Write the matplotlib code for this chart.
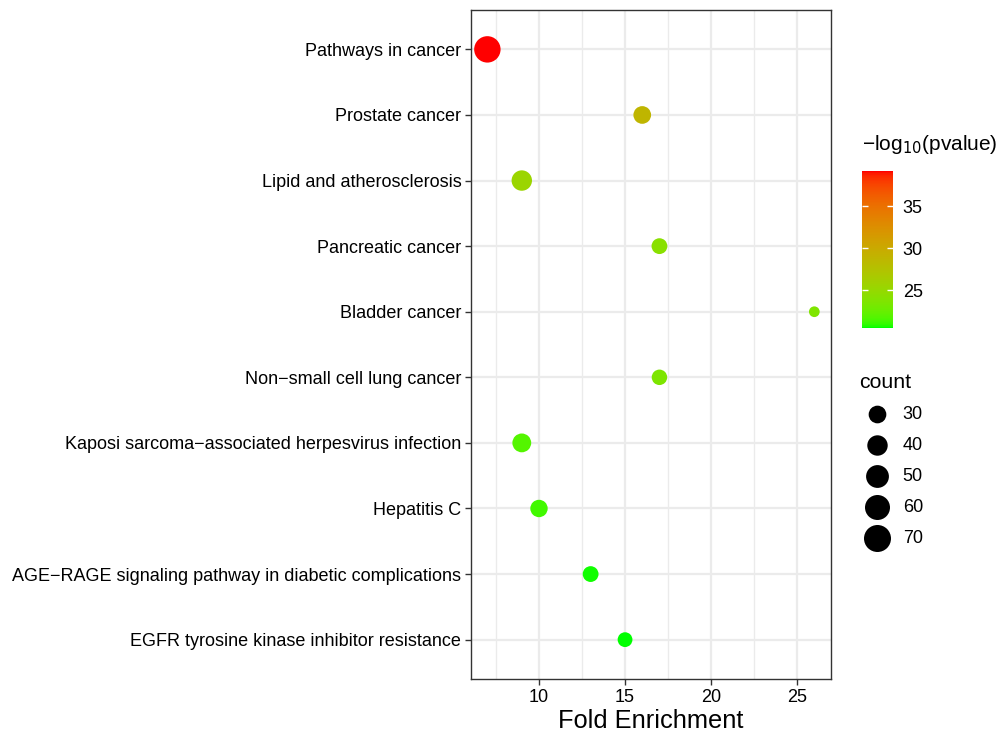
import numpy as np
import matplotlib
matplotlib.use('Agg')
import matplotlib.pyplot as plt
from matplotlib.colors import ListedColormap, Normalize
from matplotlib.cm import ScalarMappable
from matplotlib.ticker import MultipleLocator

plt.rcParams['font.family'] = ['Liberation Sans', 'DejaVu Sans']

pathways = ['Pathways in cancer',
            'Prostate cancer',
            'Lipid and atherosclerosis',
            'Pancreatic cancer',
            'Bladder cancer',
            'Non\u2212small cell lung cancer',
            'Kaposi sarcoma\u2212associated herpesvirus infection',
            'Hepatitis C',
            'AGE\u2212RAGE signaling pathway in diabetic complications',
            'EGFR tyrosine kinase inhibitor resistance']
fold_enrichment = [7, 16, 9, 17, 26, 17, 9, 10, 13, 15]
counts = [67, 30, 40, 24, 11, 23, 34, 29, 24, 21]
neg_log_p = [39.2, 28.8, 25.4, 24.2, 23.6, 23.5, 21.8, 21.3, 20.6, 20.5]
count_breaks = [30, 40, 50, 60, 70]
color_breaks = [25, 30, 35]


def srgb_to_lab(rgb):
    rgb = np.asarray(rgb, dtype=float)
    c = np.where(rgb <= 0.04045, rgb / 12.92, ((rgb + 0.055) / 1.055) ** 2.4)
    m = np.array([[0.4124, 0.3576, 0.1805],
                  [0.2126, 0.7152, 0.0722],
                  [0.0193, 0.1192, 0.9505]])
    xyz = m @ c / np.array([0.95047, 1.0, 1.08883])
    d = 6 / 29
    f = np.where(xyz > d ** 3, np.cbrt(xyz), xyz / (3 * d * d) + 4 / 29)
    return np.array([116 * f[1] - 16, 500 * (f[0] - f[1]), 200 * (f[1] - f[2])])


def lab_to_srgb(lab):
    L, a, b = lab
    fy = (L + 16) / 116
    fx = fy + a / 500
    fz = fy - b / 200
    d = 6 / 29
    f = np.array([fx, fy, fz])
    xyz = np.where(f > d, f ** 3, 3 * d * d * (f - 4 / 29))
    xyz = xyz * np.array([0.95047, 1.0, 1.08883])
    minv = np.array([[3.2406, -1.5372, -0.4986],
                     [-0.9689, 1.8758, 0.0415],
                     [0.0557, -0.2040, 1.0570]])
    c = np.clip(minv @ xyz, 0, 1)
    rgb = np.where(c <= 0.0031308, 12.92 * c, 1.055 * c ** (1 / 2.4) - 0.055)
    return np.clip(rgb, 0, 1)


# green -> red gradient interpolated in Lab, like ggplot
lo = srgb_to_lab([0, 1, 0])
hi = srgb_to_lab([1, 0, 0])
cols = [lab_to_srgb(lo + t * (hi - lo)) for t in np.linspace(0, 1, 256)]
cmap = ListedColormap(cols)
norm = Normalize(vmin=min(neg_log_p), vmax=max(neg_log_p))

SIZE_K = 5.4  # marker area (pt^2) per count

fig = plt.figure(figsize=(9.99, 7.32), dpi=100)
ax = fig.add_axes([0.4715, 0.0724, 0.36, 0.9139])

y = np.arange(len(pathways))[::-1]
ax.scatter(fold_enrichment, y, s=np.array(counts) * SIZE_K,
           c=neg_log_p, cmap=cmap, norm=norm, linewidths=0, zorder=3)

ax.set_yticks(y)
ax.set_yticklabels(pathways)
ax.set_ylim(-0.6, len(pathways) - 0.4)
xr = max(fold_enrichment) - min(fold_enrichment)
ax.set_xlim(min(fold_enrichment) - 0.05 * xr, max(fold_enrichment) + 0.05 * xr)
ax.xaxis.set_major_locator(MultipleLocator(5))
ax.xaxis.set_minor_locator(MultipleLocator(2.5))

ax.grid(which='major', color='#EBEBEB', linewidth=1.6, zorder=0)
ax.grid(which='minor', axis='x', color='#EBEBEB', linewidth=1.0, zorder=0)
ax.set_axisbelow(True)
ax.tick_params(which='minor', length=0)
ax.tick_params(which='major', length=4, width=1.0, color='#333333',
               labelsize=13, labelcolor='black', pad=3)
for sp in ax.spines.values():
    sp.set_color('#333333')
    sp.set_linewidth(1.0)
ax.set_xlabel('Fold Enrichment', fontsize=18.3, labelpad=2)

# colour bar
cax = fig.add_axes([0.863, 0.552, 0.031, 0.2145])
cb = fig.colorbar(ScalarMappable(norm=norm, cmap=cmap), cax=cax, ticks=color_breaks)
cb.outline.set_visible(False)
cax.tick_params(axis='y', which='both', direction='in', length=4, width=1,
                color='white', left=True, right=True, labelsize=13, pad=7)
cax.yaxis.set_tick_params(which='minor', length=0)
fig.text(0.863, 0.787, '\u2212log$_{10}$(pvalue)', fontsize=15,
         ha='left', va='bottom')

# size legend
handles = [ax.scatter([], [], s=b * SIZE_K, color='black', linewidths=0)
           for b in count_breaks]
leg = fig.legend(handles, [str(b) for b in count_breaks], title='count',
                 loc='upper left', bbox_to_anchor=(0.853, 0.5), frameon=False,
                 fontsize=13, title_fontsize=15.3, labelspacing=0.77,
                 handletextpad=0.4, borderaxespad=0)
leg._legend_box.align = 'left'

fig.savefig('out.png', dpi=100)
